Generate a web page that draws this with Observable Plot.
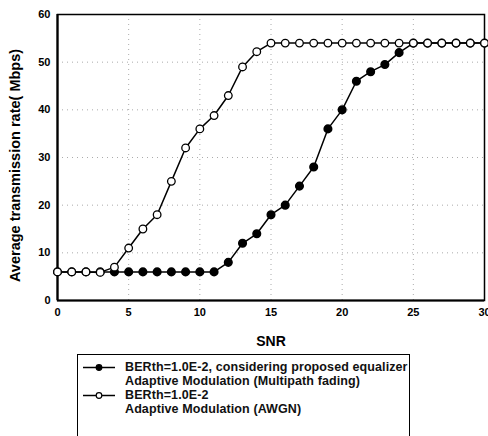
<!DOCTYPE html>
<html>
<head>
<meta charset="utf-8">
<script src="https://cdn.jsdelivr.net/npm/d3@7"></script>
<script src="https://cdn.jsdelivr.net/npm/@observablehq/plot@0.6"></script>
<style>
  html, body { margin: 0; padding: 0; background: #fff; overflow: hidden; }
  body { width: 488px; height: 436px; position: relative; font-family: "Liberation Sans", Arial, sans-serif; }
  #chart { position: absolute; left: 0; top: 0; }
  #legend { position: absolute; left: 77px; top: 354px; width: 333px; height: 100px; border: 1.5px solid #000; border-bottom: none; box-sizing: border-box; }
  .row { position: absolute; left: 0; font-weight: bold; font-size: 12.5px; color: #111; white-space: nowrap; letter-spacing: 0.1px; }
  .row svg { position: absolute; left: 4px; top: 0; }
  .row span { position: absolute; left: 47px; }
</style>
</head>
<body>
<div id="chart"></div>
<div id="legend"></div>
<script>
const snr = [0,1,2,3,4,5,6,7,8,9,10,11,12,13,14,15,16,17,18,19,20,21,22,23,24,25,26,27,28,29,30];
const multipath = [6,6,6,6,6,6,6,6,6,6,6,6,8,12,14,18,20,24,28,36,40,46,48,49.5,52,54,54,54,54,54,54];
const awgn = [6,6,6,5.9,7,11,15,18,25,32,36,38.8,43,49,52.2,54,54,54,54,54,54,54,54,54,54,54,54,54,54,54,54];
const xTicks = [0,5,10,15,20,25,30];
const yTicks = [0,10,20,30,40,50,60];
const seriesLabels = [
  ["BERth=1.0E-2, considering proposed equalizer", "Adaptive Modulation (Multipath fading)"],
  ["BERth=1.0E-2", "Adaptive Modulation (AWGN)"]
];

const dataM = snr.map((x, i) => ({x, y: multipath[i]}));
const dataA = snr.map((x, i) => ({x, y: awgn[i]}));

const chart = Plot.plot({
  width: 488,
  height: 350,
  marginLeft: 57,
  marginRight: 4,
  marginTop: 14,
  marginBottom: 50,
  style: {fontFamily: "'Liberation Sans', Arial, sans-serif", fontSize: "11px", fontWeight: "bold", background: "#fff", color: "#000"},
  x: {domain: [0, 30], ticks: xTicks, tickSize: 0, tickPadding: 8, label: null},
  y: {domain: [0, 60], ticks: yTicks, tickSize: 0, tickPadding: 7, label: null},
  marks: [
    Plot.gridX(xTicks, {stroke: "#888", strokeOpacity: 0.7, strokeDasharray: "1,4"}),
    Plot.gridY(yTicks, {stroke: "#888", strokeOpacity: 0.7, strokeDasharray: "1,4"}),
    Plot.frame({stroke: "#000", strokeWidth: 1.5}),
    Plot.ruleX([0], {stroke: "#000", strokeWidth: 2.2}),
    Plot.ruleY([0], {stroke: "#000", strokeWidth: 2.2}),
    Plot.axisX({ticks: xTicks, tickSize: 0, tickPadding: 8, fontSize: 11, fontWeight: "bold", label: null}),
    Plot.axisY({ticks: yTicks, tickSize: 0, tickPadding: 7, fontSize: 11, fontWeight: "bold", label: null}),
    Plot.text(["SNR"], {frameAnchor: "bottom", dy: 45, fontSize: 14, fontWeight: "bold"}),
    Plot.text(["Average transmission rate( Mbps)"], {frameAnchor: "left", textAnchor: "middle", dx: -42, dy: 8, rotate: -90, fontSize: 14.5, fontWeight: "bold"}),
    Plot.line(dataM, {x: "x", y: "y", stroke: "#000", strokeWidth: 1.5}),
    Plot.dot(dataM, {x: "x", y: "y", r: 3.8, fill: "#000", stroke: "#000"}),
    Plot.line(dataA, {x: "x", y: "y", stroke: "#000", strokeWidth: 1.5}),
    Plot.dot(dataA, {x: "x", y: "y", r: 3.8, fill: "#fff", stroke: "#000", strokeWidth: 1.3})
  ]
});
document.getElementById("chart").appendChild(chart);

const legend = document.getElementById("legend");
const fills = ["#000", "#fff"];
seriesLabels.forEach((lines, i) => {
  lines.forEach((t, j) => {
    const row = document.createElement("div");
    row.className = "row";
    row.style.top = (5 + (i * 2 + j) * 14) + "px";
    row.style.width = "330px";
    row.style.height = "14px";
    const span = document.createElement("span");
    span.textContent = t;
    row.appendChild(span);
    if (j === 0) {
      const ns = "http://www.w3.org/2000/svg";
      const s = document.createElementNS(ns, "svg");
      s.setAttribute("width", "34"); s.setAttribute("height", "14");
      const l = document.createElementNS(ns, "line");
      l.setAttribute("x1", "1"); l.setAttribute("x2", "33"); l.setAttribute("y1", "7.5"); l.setAttribute("y2", "7.5");
      l.setAttribute("stroke", "#000"); l.setAttribute("stroke-width", "1.5");
      const c = document.createElementNS(ns, "circle");
      c.setAttribute("cx", "17"); c.setAttribute("cy", "7.5"); c.setAttribute("r", "2.8");
      c.setAttribute("fill", fills[i]); c.setAttribute("stroke", "#000"); c.setAttribute("stroke-width", "1.2");
      s.appendChild(l); s.appendChild(c);
      row.appendChild(s);
    }
    legend.appendChild(row);
  });
});
</script>
</body>
</html>
